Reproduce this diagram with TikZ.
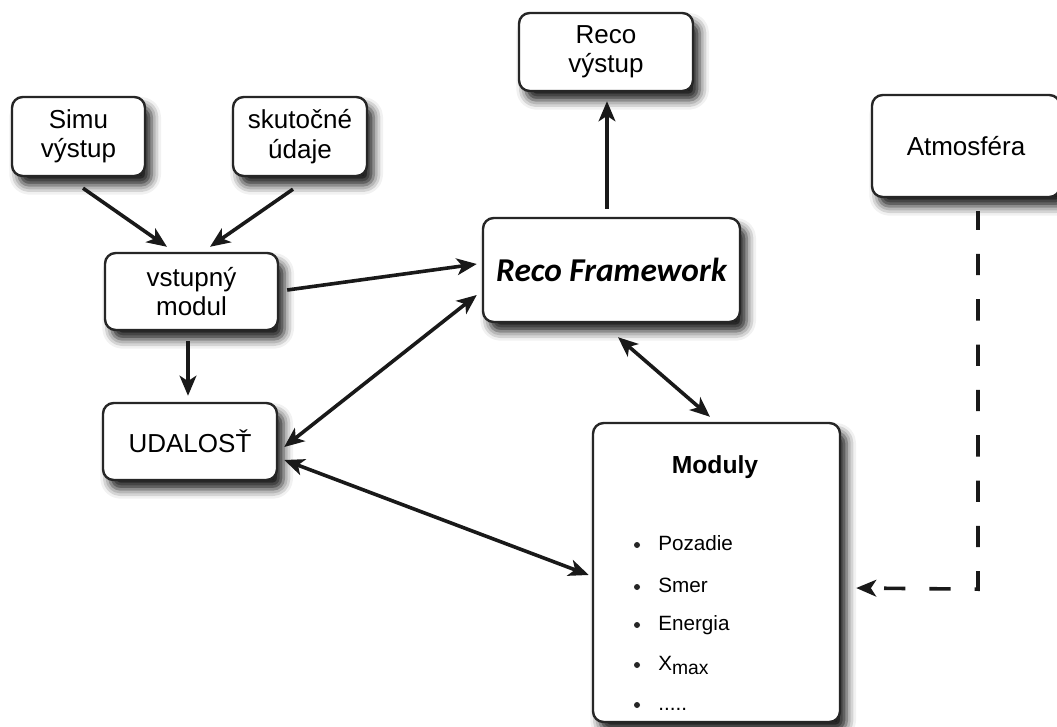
\documentclass[tikz,border=0pt]{standalone}
\usepackage{fontspec}
\setmainfont{Liberation Sans}
\newfontfamily\recofont{Carlito}
\usetikzlibrary{arrows.meta,shadows.blur,calc}
\begin{document}
\begin{tikzpicture}[x=0.75pt,y=-0.75pt,
 box/.style={draw=black!85, line width=1.8pt, rounded corners=8pt, fill=white,
   blur shadow={shadow xshift=5pt, shadow yshift=-7pt, shadow blur radius=7pt, shadow opacity=90},
   inner sep=0pt, font=\fontsize{19.5}{22}\selectfont, align=center},
 tip/.tip={Stealth[length=15pt,width=12.5pt,inset=4pt]},
 arr/.style={line width=2.7pt, draw=black!90, -tip},
 darr/.style={line width=2.7pt, draw=black!90, tip-tip},
 item/.style={anchor=base west, font=\fontsize{15.5}{18}\selectfont, inner sep=0pt},
 bul/.style={circle, fill=black!85, inner sep=0pt, minimum size=4.5pt}
]
\useasboundingbox (0,0) rectangle (1057,727);

\node[box, minimum width=99.75pt, minimum height=59.25pt] (simu) at (78.5,136.5) {Simu\\výstup};
\node[box, minimum width=100.5pt, minimum height=59.25pt] (skut) at (300,136.5) {skutočné\\údaje};
\node[box, minimum width=129.75pt, minimum height=57.75pt] (vin) at (191.5,291.5) {vstupný\\modul};
\node[box, minimum width=130.5pt, minimum height=57.75pt] (udal) at (190,441.5) {UDALOSŤ};
\node[box, minimum width=130.5pt, minimum height=58.5pt] (recov) at (606,52) {Reco\\výstup};
\node[box, minimum width=192.75pt, minimum height=78pt, font=\recofont\bfseries\itshape\fontsize{25}{28}\selectfont] (reco) at (611.5,270) {Reco Framework};
\node[box, minimum width=185.25pt, minimum height=224.25pt] (mod) at (716.5,572.5) {};
\node[box, minimum width=141pt, minimum height=76.5pt] (atm) at (966,146) {Atmosféra};

\node[font=\bfseries\fontsize{18.5}{21}\selectfont, inner sep=0pt] (modt) at (715,467) {Moduly};
\node[item] (i1) at (658,550) {Pozadie};
\node[item] (i2) at (658,592) {Smer};
\node[item] (i3) at (658,630) {Energia};
\node[item] (i4) at (658,670) {X\raisebox{-0.45ex}{\fontsize{14.5}{16}\selectfont max}};
\node[item] (i5) at (658,710) {.....};
\foreach \i/\y in {1/545,2/587,3/625,4/665,5/705}{\node[bul] (b\i) at (637,\y) {};}

\draw[arr] ($(simu.south)+(4.5,11)$) -- ($(vin.north)+(-24.5,-5)$);
\draw[arr] ($(skut.south)+(-7,12)$) -- ($(vin.north)+(18.5,-5)$);
\draw[arr] ($(vin.south)+(-3.5,10)$) -- ($(udal.north)+(-2,-6)$);
\draw[arr] ($(vin.east)+(8,-1.5)$) -- ($(reco.west)+(-5,-6)$);
\draw[darr] ($(udal.east)+(6,5.5)$) -- ($(reco.west)+(-5,25)$);
\draw[darr] ($(udal.east)+(6,18.5)$) -- ($(mod.west)+(-3,2.5)$);
\draw[darr] ($(reco.south)+(6.5,14)$) -- ($(mod.north)+(-6.5,-5)$);
\draw[arr] ($(reco.north)+(-4.5,-8)$) -- ($(recov.south)+(1,9)$);
\coordinate (corner) at ($(atm.south)+(12,391)$);
\draw[line width=2.7pt, draw=black!90, dash pattern=on 16pt off 18pt, dash phase=2pt, -tip]
  ($(atm.south)+(12,13)$) -- (corner) -- ($(mod.east)+(15,15.5)$);
\end{tikzpicture}
\end{document}
